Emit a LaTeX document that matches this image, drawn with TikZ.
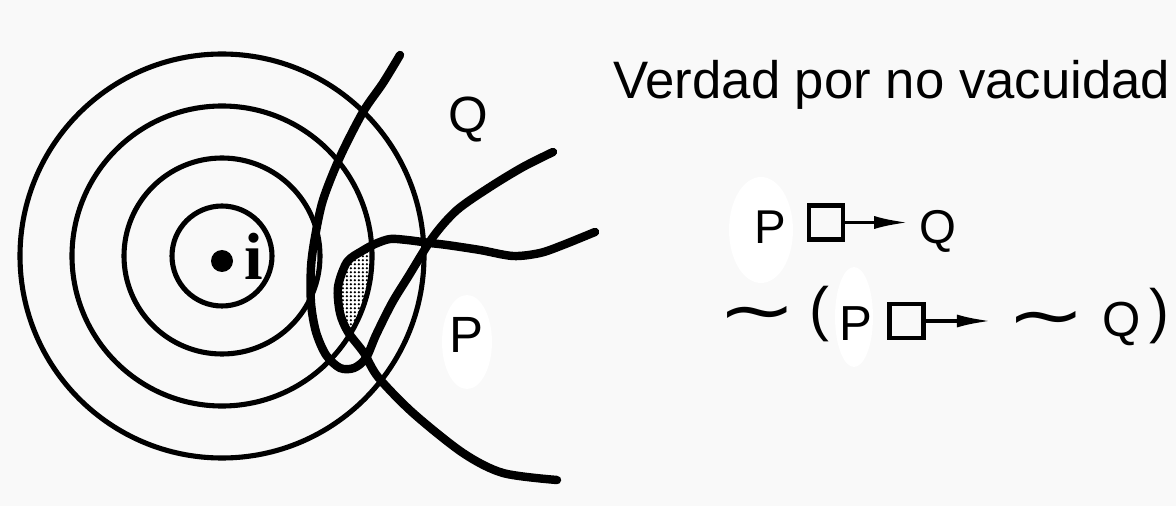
\documentclass[tikz,border=0pt]{standalone}
\usepackage{graphicx}
\usepackage{fontspec}
\setmainfont{Liberation Sans}
\newfontfamily\serifface{Liberation Serif}
\newfontfamily\symface{DejaVu Sans}
\usetikzlibrary{arrows.meta, patterns.meta}
\definecolor{paper}{RGB}{249,249,249}
\tikzdeclarepattern{
  name=screen,
  bottom left={(0pt,0pt)},
  top right={(2.4pt,2.4pt)},
  tile size={(2.4pt,2.4pt)},
  code={\fill (1.2pt,1.2pt) circle[radius=0.82pt];}
}

\begin{document}
\begin{tikzpicture}[x=0.02cm, y=-0.02cm,
    sphere/.style={line width=2.9pt},
    region/.style={line width=4.8pt, line cap=round, line join=round},
    blot/.style={fill=white},
    letter/.style={inner sep=0pt, anchor=base, font=\fontsize{29}{30}\selectfont},
    formula/.style={inner sep=0pt, anchor=base, font=\fontsize{27}{30}\selectfont},
    negsign/.style={inner sep=0pt, font=\symface\fontsize{40}{40}\selectfont},
    paren/.style={inner sep=0pt, font=\fontsize{34}{36}\selectfont},
    opbox/.style={draw, line width=2.4pt, minimum size=0.68cm, inner sep=0pt},
    opto/.style={line width=1.9pt, -{Latex[length=0.68cm,width=0.26cm]}}]
  % paper
  \fill[paper] (0,0) rectangle (1176,506);
  \useasboundingbox (0,0) rectangle (1176,506);
  % white blots behind the P letters
  \fill[blot] (467,342) ellipse[x radius=25, y radius=47];
  \fill[blot] (761,230) ellipse[x radius=32, y radius=53];
  \fill[blot] (854,317) ellipse[x radius=19, y radius=50];
  % closest P-worlds (P inside the third sphere)
  \begin{scope}
    \clip (222,256) circle[radius=150];
    \fill[pattern=screen, preaction={fill=white}]
      plot[smooth] coordinates {(595,232) (563,245) (540,253) (513,256)
        (480,250) (447,245) (430,243) (407,240) (390,239) (375,244)
        (362,251) (347,262) (338,287) (340,313) (348,332) (364,353)
        (378,377) (413,413) (463,453) (503,473) (557,480)}
      -- (700,520) -- (700,200) -- cycle;
  \end{scope}
  % spheres round i
  \foreach \r in {50,98,150,202}
    \draw[sphere] (222,256) circle[radius=\r];
  \fill (222,261) circle[radius=11];
  \node[inner sep=0pt, anchor=base, font=\serifface\bfseries\fontsize{38}{40}\selectfont]
    (world) at (254,280) {i};
  % Q region
  \draw[region] plot[smooth] coordinates {(400,55) (383,83) (363,112)
    (340,157) (323,200) (315,237) (311,267) (311,303) (316,332)
    (326,355) (340,368) (354,368) (366,358) (376,335) (392,303)
    (408,277) (433,237) (457,210) (490,187) (523,167) (553,152)};
  % P region
  \draw[region] plot[smooth] coordinates {(595,232) (563,245) (540,253)
    (513,256) (480,250) (447,245) (430,243) (407,240) (390,239)
    (375,244) (362,251) (347,262) (338,287) (340,313) (348,332)
    (364,353) (378,377) (413,413) (463,453) (503,473) (557,480)};
  \node[letter] (qlab) at (468,133) {Q};
  \node[letter] (plab) at (466,353) {P};
  % heading
  \node[inner sep=0pt, anchor=base west, font=\fontsize{30}{32}\selectfont]
    (title) at (613,99) {Verdad por no vacuidad};
  % P box-arrow Q
  \node[formula] (p1) at (770,244) {P};
  \node[opbox] (b1) at (826,222.5) {};
  \node[formula] (q1) at (938,244) {Q};
  \draw[opto, shorten >=0.22cm] (b1.east) -- (b1.east -| q1.west);
  % not (P box-arrow not Q)
  \node[negsign] (n1) at (757,320) {\scalebox{1.35}[1]{∼}};
  \node[paren] (lp) at (819,314) {(};
  \node[formula, font=\fontsize{28}{30}\selectfont] (p2) at (856,340) {P};
  \node[opbox] (b2) at (906.5,321) {};
  \node[negsign] (n2) at (1046,325) {\scalebox{1.35}[1]{∼}};
  \node[formula, font=\fontsize{28}{30}\selectfont] (q2) at (1122,337) {Q};
  \node[paren] (rp) at (1159,316) {)};
  \draw[opto, shorten >=0.3cm] (b2.east) -- (b2.east -| n2.west);
\end{tikzpicture}
\end{document}
